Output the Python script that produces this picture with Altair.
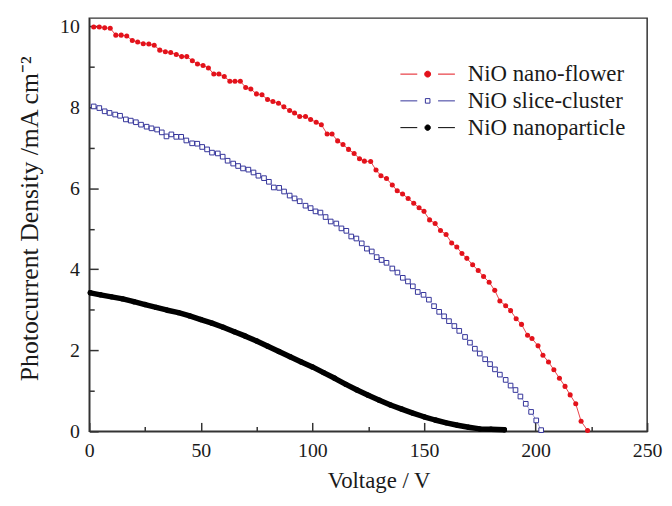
import math
import altair as alt
import pandas as pd

# ---------------- data ----------------
series_names = ["NiO nano-flower", "NiO slice-cluster", "NiO nanoparticle"]

flower_v = [2.0, 4.5, 6.9, 9.4, 11.9, 14.3, 16.8, 19.3, 21.7, 24.2, 26.7, 29.1,
            31.6, 34.1, 36.5, 39.0, 41.4, 43.7, 46.2, 48.5, 51.0, 53.4, 55.8, 58.1,
            60.5, 63.0, 65.3, 67.7, 70.1, 72.4, 74.9, 77.4, 79.9, 82.3, 84.8, 87.2,
            89.8, 92.0, 94.3, 96.9, 99.2, 101.7, 104.0, 106.6, 108.8, 111.3, 113.7,
            116.2, 118.7, 121.1, 123.3, 126.1, 128.5, 130.7, 133.2, 135.8, 138.0,
            140.4, 142.9, 145.4, 147.8, 150.0, 152.5, 155.0, 157.4, 159.9, 162.4,
            164.7, 167.0, 169.2, 171.8, 174.3, 176.7, 179.2, 181.7, 184.0, 186.6,
            188.8, 191.3, 193.7, 196.4, 198.4, 201.1, 203.3, 205.8, 208.2, 210.7,
            213.2, 215.5, 218.0, 220.4, 223.3]
flower_j = [9.98, 9.98, 9.96, 9.95, 9.78, 9.78, 9.76, 9.65, 9.61, 9.57, 9.56, 9.53,
            9.41, 9.37, 9.35, 9.30, 9.25, 9.25, 9.15, 9.07, 9.03, 8.97, 8.82, 8.82,
            8.76, 8.64, 8.64, 8.64, 8.49, 8.45, 8.33, 8.31, 8.19, 8.14, 8.10, 8.01,
            7.92, 7.86, 7.77, 7.77, 7.70, 7.63, 7.57, 7.34, 7.34, 7.17, 7.08,
            6.96, 6.86, 6.73, 6.67, 6.66, 6.45, 6.31, 6.24, 6.08, 5.94,
            5.86, 5.75, 5.63, 5.52, 5.43, 5.22, 5.13, 4.96, 4.86, 4.65,
            4.55, 4.39, 4.27, 4.11, 3.97, 3.82, 3.68, 3.48, 3.22, 3.10,
            2.98, 2.78, 2.64, 2.37, 2.29, 2.11, 1.88, 1.71, 1.52, 1.31,
            1.11, 0.90, 0.68, 0.25, 0.02]

cluster_v = [2.0, 4.5, 6.9, 9.1, 11.6, 13.8, 16.4, 18.6, 20.9, 23.2, 25.7, 27.9,
             30.4, 32.5, 34.6, 36.8, 39.0, 41.2, 43.5, 46.1, 48.4, 50.6, 52.8, 55.0,
             57.6, 59.8, 62.0, 64.5, 66.7, 68.9, 71.3, 73.6, 75.8, 78.3, 80.5, 82.7,
             85.1, 87.3, 89.8, 92.0, 94.3, 96.9, 99.2, 101.4, 103.6, 105.9, 108.2,
             110.7, 113.0, 115.2, 117.4, 119.7, 122.1, 124.4, 126.6, 128.8, 131.0,
             133.2, 135.8, 138.1, 140.5, 142.8, 145.0, 147.2, 149.8, 152.2, 154.5,
             156.8, 159.0, 161.2, 163.6, 165.8, 168.4, 170.6, 172.8, 175.0, 177.4,
             179.6, 181.8, 184.0, 186.6, 188.8, 191.0, 193.2, 195.6, 198.0, 200.3,
             202.5]
cluster_j = [8.02, 7.98, 7.90, 7.86, 7.82, 7.79, 7.70, 7.67, 7.63, 7.57, 7.52, 7.48,
             7.45, 7.38, 7.28, 7.33, 7.27, 7.27, 7.18, 7.11, 7.10, 7.02, 6.96, 6.88,
             6.86, 6.78, 6.68, 6.61, 6.55, 6.49, 6.46, 6.39, 6.31, 6.25, 6.16, 6.02,
             6.01, 5.92, 5.82, 5.75, 5.68, 5.57, 5.51, 5.43, 5.40, 5.29, 5.18,
             5.13, 5.01, 4.95, 4.81, 4.76, 4.64, 4.51, 4.44, 4.30, 4.23,
             4.16, 4.02, 3.92, 3.79, 3.70, 3.58, 3.44, 3.37, 3.25, 3.09,
             2.95, 2.84, 2.72, 2.60, 2.48, 2.33, 2.19, 2.04, 1.92, 1.78,
             1.66, 1.53, 1.40, 1.27, 1.13, 1.02, 0.86, 0.68, 0.48, 0.27,
             0.03]

particle_v = [0.5, 5, 10, 15, 20, 25, 30, 35, 40, 45, 50, 55, 60, 65, 70, 75, 80,
              85, 90, 95, 100, 105, 110, 115, 120, 125, 130, 135, 140, 145, 150,
              155, 160, 165, 170, 175, 180, 186]
particle_j = [3.42, 3.37, 3.32, 3.27, 3.20, 3.13, 3.06, 2.99, 2.93, 2.85, 2.76,
              2.67, 2.57, 2.46, 2.35, 2.23, 2.10, 1.97, 1.84, 1.71, 1.59, 1.45,
              1.31, 1.16, 1.02, 0.89, 0.77, 0.65, 0.55, 0.45, 0.36, 0.28, 0.21,
              0.15, 0.10, 0.06, 0.05, 0.04]

x_major = [0, 50, 100, 150, 200, 250]
x_minor = [25, 75, 125, 175, 225]
y_major = [0, 2, 4, 6, 8, 10]
y_minor = [1, 3, 5, 7, 9]

frames = []
for name, vs, js in zip(series_names, [flower_v, cluster_v, particle_v],
                        [flower_j, cluster_j, particle_j]):
    frames.append(pd.DataFrame({"V": vs, "J": js, "series": name}))
df = pd.concat(frames, ignore_index=True)

# ---------------- styling ----------------
FONT = "Liberation Serif"
AX = "#333333"
TXT = "#1a1a1a"
RED = "#e3121b"
BLUE = "#34349a"
BLUE_LINE = "#8a8ac8"


def ring(r, n=14):
    pts = [(r * math.cos(2 * math.pi * k / n), r * math.sin(2 * math.pi * k / n)) for k in range(n)]
    return "M" + "L".join(f"{x:.3f},{y:.3f}" for x, y in pts) + "Z"


# legend symbol units: 1 unit = 5 px (symbolSize 100)
LINE_PART = "M-5.5,0H-2.1M2.1,0H5.5"
legend_shapes = [
    LINE_PART + ring(0.6),
    LINE_PART + "M-0.46,-0.46H0.46V0.46H-0.46Z",
    LINE_PART + ring(0.55),
]

xs = alt.Scale(domain=[0, 250], nice=False, zero=False)
ys = alt.Scale(domain=[0, 10.2], nice=False, zero=False)

label_x_axis = alt.Axis(
    orient="bottom", title="Voltage / V", values=x_major, format="d",
    ticks=False, grid=False, domain=True, domainColor=AX, domainWidth=1.5,
    labelFont=FONT, labelFontSize=20, labelColor=TXT, labelPadding=9,
    labelFlush=False, labelOverlap=False,
    titleFont=FONT, titleFontSize=23, titleFontWeight="normal", titleColor=TXT,
    titleX=292, titleY=57, titleBaseline="alphabetic", titleAlign="center",
)
label_y_axis = alt.Axis(
    orient="left", title="Photocurrent Density /mA cm\u207b\u00b2", values=y_major,
    format="d", ticks=False, grid=False, domain=True, domainColor=AX,
    domainWidth=1.5, labelFont=FONT, labelFontSize=20, labelColor=TXT,
    labelPadding=10, labelFlush=False, labelOverlap=False,
    titleFont=FONT, titleFontSize=26, titleFontWeight="normal", titleColor=TXT,
    titleAngle=270, titleX=-52, titleY=202, titleBaseline="alphabetic",
    titleAlign="center",
)


def tick_axis(orient, vals, length):
    return alt.Axis(orient=orient, values=vals, offset=-length, tickSize=length,
                    tickColor=AX, tickWidth=1.5, labels=False, domain=False,
                    grid=False, title=None)


base = alt.Chart(df)


def only(i):
    return base.transform_filter(alt.datum.series == series_names[i])


red_line = only(0).mark_line(color=RED, strokeWidth=0.8).encode(
    x=alt.X("V:Q", scale=xs, axis=label_x_axis),
    y=alt.Y("J:Q", scale=ys, axis=label_y_axis),
)
red_pts = only(0).mark_point(shape="circle", filled=True, color=RED, size=26,
                             opacity=1).encode(
    x=alt.X("V:Q", scale=xs, axis=tick_axis("bottom", x_major, 9)),
    y=alt.Y("J:Q", scale=ys, axis=tick_axis("left", y_major, 9)),
)
blue_line = only(1).mark_line(color=BLUE_LINE, strokeWidth=0.8).encode(
    x=alt.X("V:Q", scale=xs, axis=None),
    y=alt.Y("J:Q", scale=ys, axis=None),
)
blue_pts = only(1).mark_point(shape="square", fill="white", stroke=BLUE,
                              strokeWidth=1, size=22, opacity=1).encode(
    x=alt.X("V:Q", scale=xs, axis=tick_axis("bottom", x_minor, 5)),
    y=alt.Y("J:Q", scale=ys, axis=tick_axis("left", y_minor, 5)),
)
black_line = only(2).mark_line(color="black", strokeWidth=5.5, strokeCap="round",
                               strokeJoin="round").encode(
    x=alt.X("V:Q", scale=xs, axis=None),
    y=alt.Y("J:Q", scale=ys, axis=None),
)
black_pts = only(2).mark_circle(color="black", size=30, opacity=1).encode(
    x=alt.X("V:Q", scale=xs, axis=None),
    y=alt.Y("J:Q", scale=ys, axis=None),
)

leg = alt.Legend(title=None, orient="none", legendX=330, legendY=45,
                 symbolSize=100, symbolStrokeWidth=1, labelFont=FONT,
                 labelFontSize=23, labelColor=TXT, labelOffset=29,
                 rowPadding=3, padding=0)
legend_layer = base.transform_filter("datum.V < 0").mark_point(
    opacity=1, strokeWidth=1).encode(
    shape=alt.Shape("series:N", scale=alt.Scale(domain=series_names, range=legend_shapes), legend=leg),
    stroke=alt.Stroke("series:N", scale=alt.Scale(domain=series_names, range=[RED, BLUE, "black"]), legend=leg),
    fill=alt.Fill("series:N", scale=alt.Scale(domain=series_names, range=[RED, "white", "black"]), legend=leg),
)

chart = alt.layer(
    red_line, blue_line, black_line, blue_pts, red_pts, black_pts, legend_layer
).resolve_axis(x="independent", y="independent").properties(
    width=563, height=417, autosize="none",
    padding={"left": 82, "top": 8, "right": 17, "bottom": 61},
    background="white",
).configure_view(stroke=AX, strokeWidth=1.5)

chart.save("out.html", embed_options={"renderer": "svg", "actions": False})
